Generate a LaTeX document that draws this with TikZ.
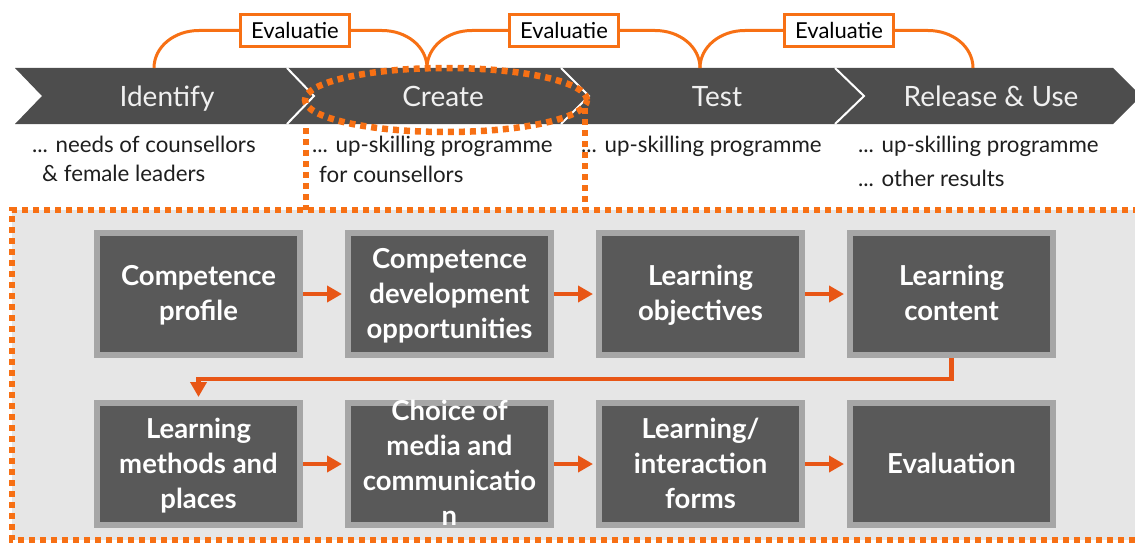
\documentclass[tikz,border=0pt]{standalone}
\usepackage{fontspec}
\setmainfont{Lato}
\usetikzlibrary{arrows.meta}
\definecolor{band}{RGB}{77,77,77}
\definecolor{orng}{RGB}{247,112,20}
\definecolor{arr}{RGB}{232,86,22}
\definecolor{boxin}{RGB}{89,89,89}
\definecolor{boxout}{RGB}{166,166,166}
\definecolor{area}{RGB}{230,230,230}
\definecolor{txt}{RGB}{30,30,30}
\begin{document}
\begin{tikzpicture}[x=1pt,y=-1pt,
  stage/.style={text=white!94!black, font=\fontsize{28}{28}\selectfont, inner sep=0, anchor=base},
  desc/.style={anchor=base west, text=txt, font=\fontsize{22.3}{25}\selectfont, inner sep=0},
  evalbox/.style={draw=orng, line width=3pt, fill=white, minimum width=109pt, minimum height=32pt, inner sep=0, font=\fontsize{22}{22}\selectfont},
  bracket/.style={draw=orng, line width=3pt},
  dots/.style={draw=orng, line width=6.5pt, dash pattern=on 6pt off 5pt},
  stepbox/.style={fill=boxin, draw=boxout, line width=6pt, minimum width=203pt, minimum height=122pt, inner sep=0},
  boxtext/.style={text=white, align=center, inner sep=0, yshift=-2pt, font=\bfseries\fontsize{27.5}{35}\selectfont},
  flow/.style={draw=arr, line width=4.5pt, -{Triangle[length=15pt,width=16pt]}, shorten >=3pt}
]
\useasboundingbox (0,0) rectangle (1135,543);
\clip (0,0) rectangle (1135,543);

% grey working area
\fill[area] (12,210) rectangle (1145,540);
\draw[dots] (1150,210) -- (12,210) -- (12,540) -- (1150,540);

% chevron band
\fill[band] (15,68) -- (1113,68) -- (1141,96) -- (1113,124) -- (15,124) -- (42,96) -- cycle;
\draw[white, line width=2pt] (287,68) -- (314,96) -- (287,124);
\draw[white, line width=2pt] (561,68) -- (589,96) -- (561,124);
\draw[white, line width=2pt] (835,68) -- (864,96) -- (835,124);

\node[stage] (identify) at (167,106.5) {Identify};
\node[stage] (create) at (443,106.5) {Create};
\node[stage] (test) at (717,106.5) {Test};
\node[stage] (release) at (991,106.5) {Release \& Use};

% descriptions
\node[desc] (d1a) at (32,152) {... needs of counsellors};
\node[desc] (d1b) at (42,181) {\& female leaders};
\node[desc] (d2a) at (312,152) {... up-skilling programme};
\node[desc] (d2b) at (319,182) {for counsellors};
\node[desc] (d3a) at (581,152) {... up-skilling programme};
\node[desc] (d4a) at (858,152) {... up-skilling programme};
\node[desc] (d4b) at (858,186) {... other results};

% dotted highlight of Create
\draw[dots] (446,100) ellipse [x radius=141pt, y radius=32pt];
\draw[dots] (306,128) -- (306,210);
\draw[dots] (585,108) -- (585,210);

% evaluation brackets
\node[evalbox] (ev1) at (295,30.5) {Evaluatie};
\node[evalbox] (ev2) at (564,30.5) {Evaluatie};
\node[evalbox] (ev3) at (839,30.5) {Evaluatie};
\coordinate (f1) at (154,68);
\coordinate (f2) at (427,68);
\coordinate (f3) at (700,68);
\coordinate (f4) at (973,68);
\draw[bracket] (f1) .. controls (154,47) and (174,30.5) .. (199,30.5) -- (ev1.west);
\draw[bracket] (ev1.east) -- (382,30.5) .. controls (407,30.5) and (427,47) .. (f2);
\draw[bracket] (f2) .. controls (427,47) and (447,30.5) .. (472,30.5) -- (ev2.west);
\draw[bracket] (ev2.east) -- (655,30.5) .. controls (680,30.5) and (700,47) .. (f3);
\draw[bracket] (f3) .. controls (700,47) and (720,30.5) .. (745,30.5) -- (ev3.west);
\draw[bracket] (ev3.east) -- (928,30.5) .. controls (953,30.5) and (973,47) .. (f4);

% process boxes
\node[stepbox] (b1) at (198.5,294) {};
\node[stepbox] (b2) at (449.5,294) {};
\node[stepbox] (b3) at (700.5,294) {};
\node[stepbox] (b4) at (951.5,294) {};
\node[stepbox] (b5) at (198.5,464) {};
\node[stepbox] (b6) at (449.5,464) {};
\node[stepbox] (b7) at (700.5,464) {};
\node[stepbox] (b8) at (951.5,464) {};

\node[boxtext] (t1) at (b1) {Competence\strut\\profile\strut};
\node[boxtext] (t2) at (b2) {Competence\strut\\development\strut\\opportunities\strut};
\node[boxtext] (t3) at (b3) {Learning\strut\\objectives\strut};
\node[boxtext] (t4) at (b4) {Learning\strut\\content\strut};
\node[boxtext] (t5) at (b5) {Learning\strut\\methods and\strut\\places\strut};
\node[boxtext] (t6) at (b6) {Choice of\strut\\media and\strut\\communicatio\strut\\n\strut};
\node[boxtext] (t7) at (b7) {Learning/\strut\\interaction\strut\\forms\strut};
\node[boxtext] (t8) at (b8) {Evaluation\strut};

% flow arrows
\draw[flow] (b1) -- (b2);
\draw[flow] (b2) -- (b3);
\draw[flow] (b3) -- (b4);
\draw[flow] (b4.south) -- ++(0,21) -| (b5.north);
\draw[flow] (b5) -- (b6);
\draw[flow] (b6) -- (b7);
\draw[flow] (b7) -- (b8);
\end{tikzpicture}
\end{document}
